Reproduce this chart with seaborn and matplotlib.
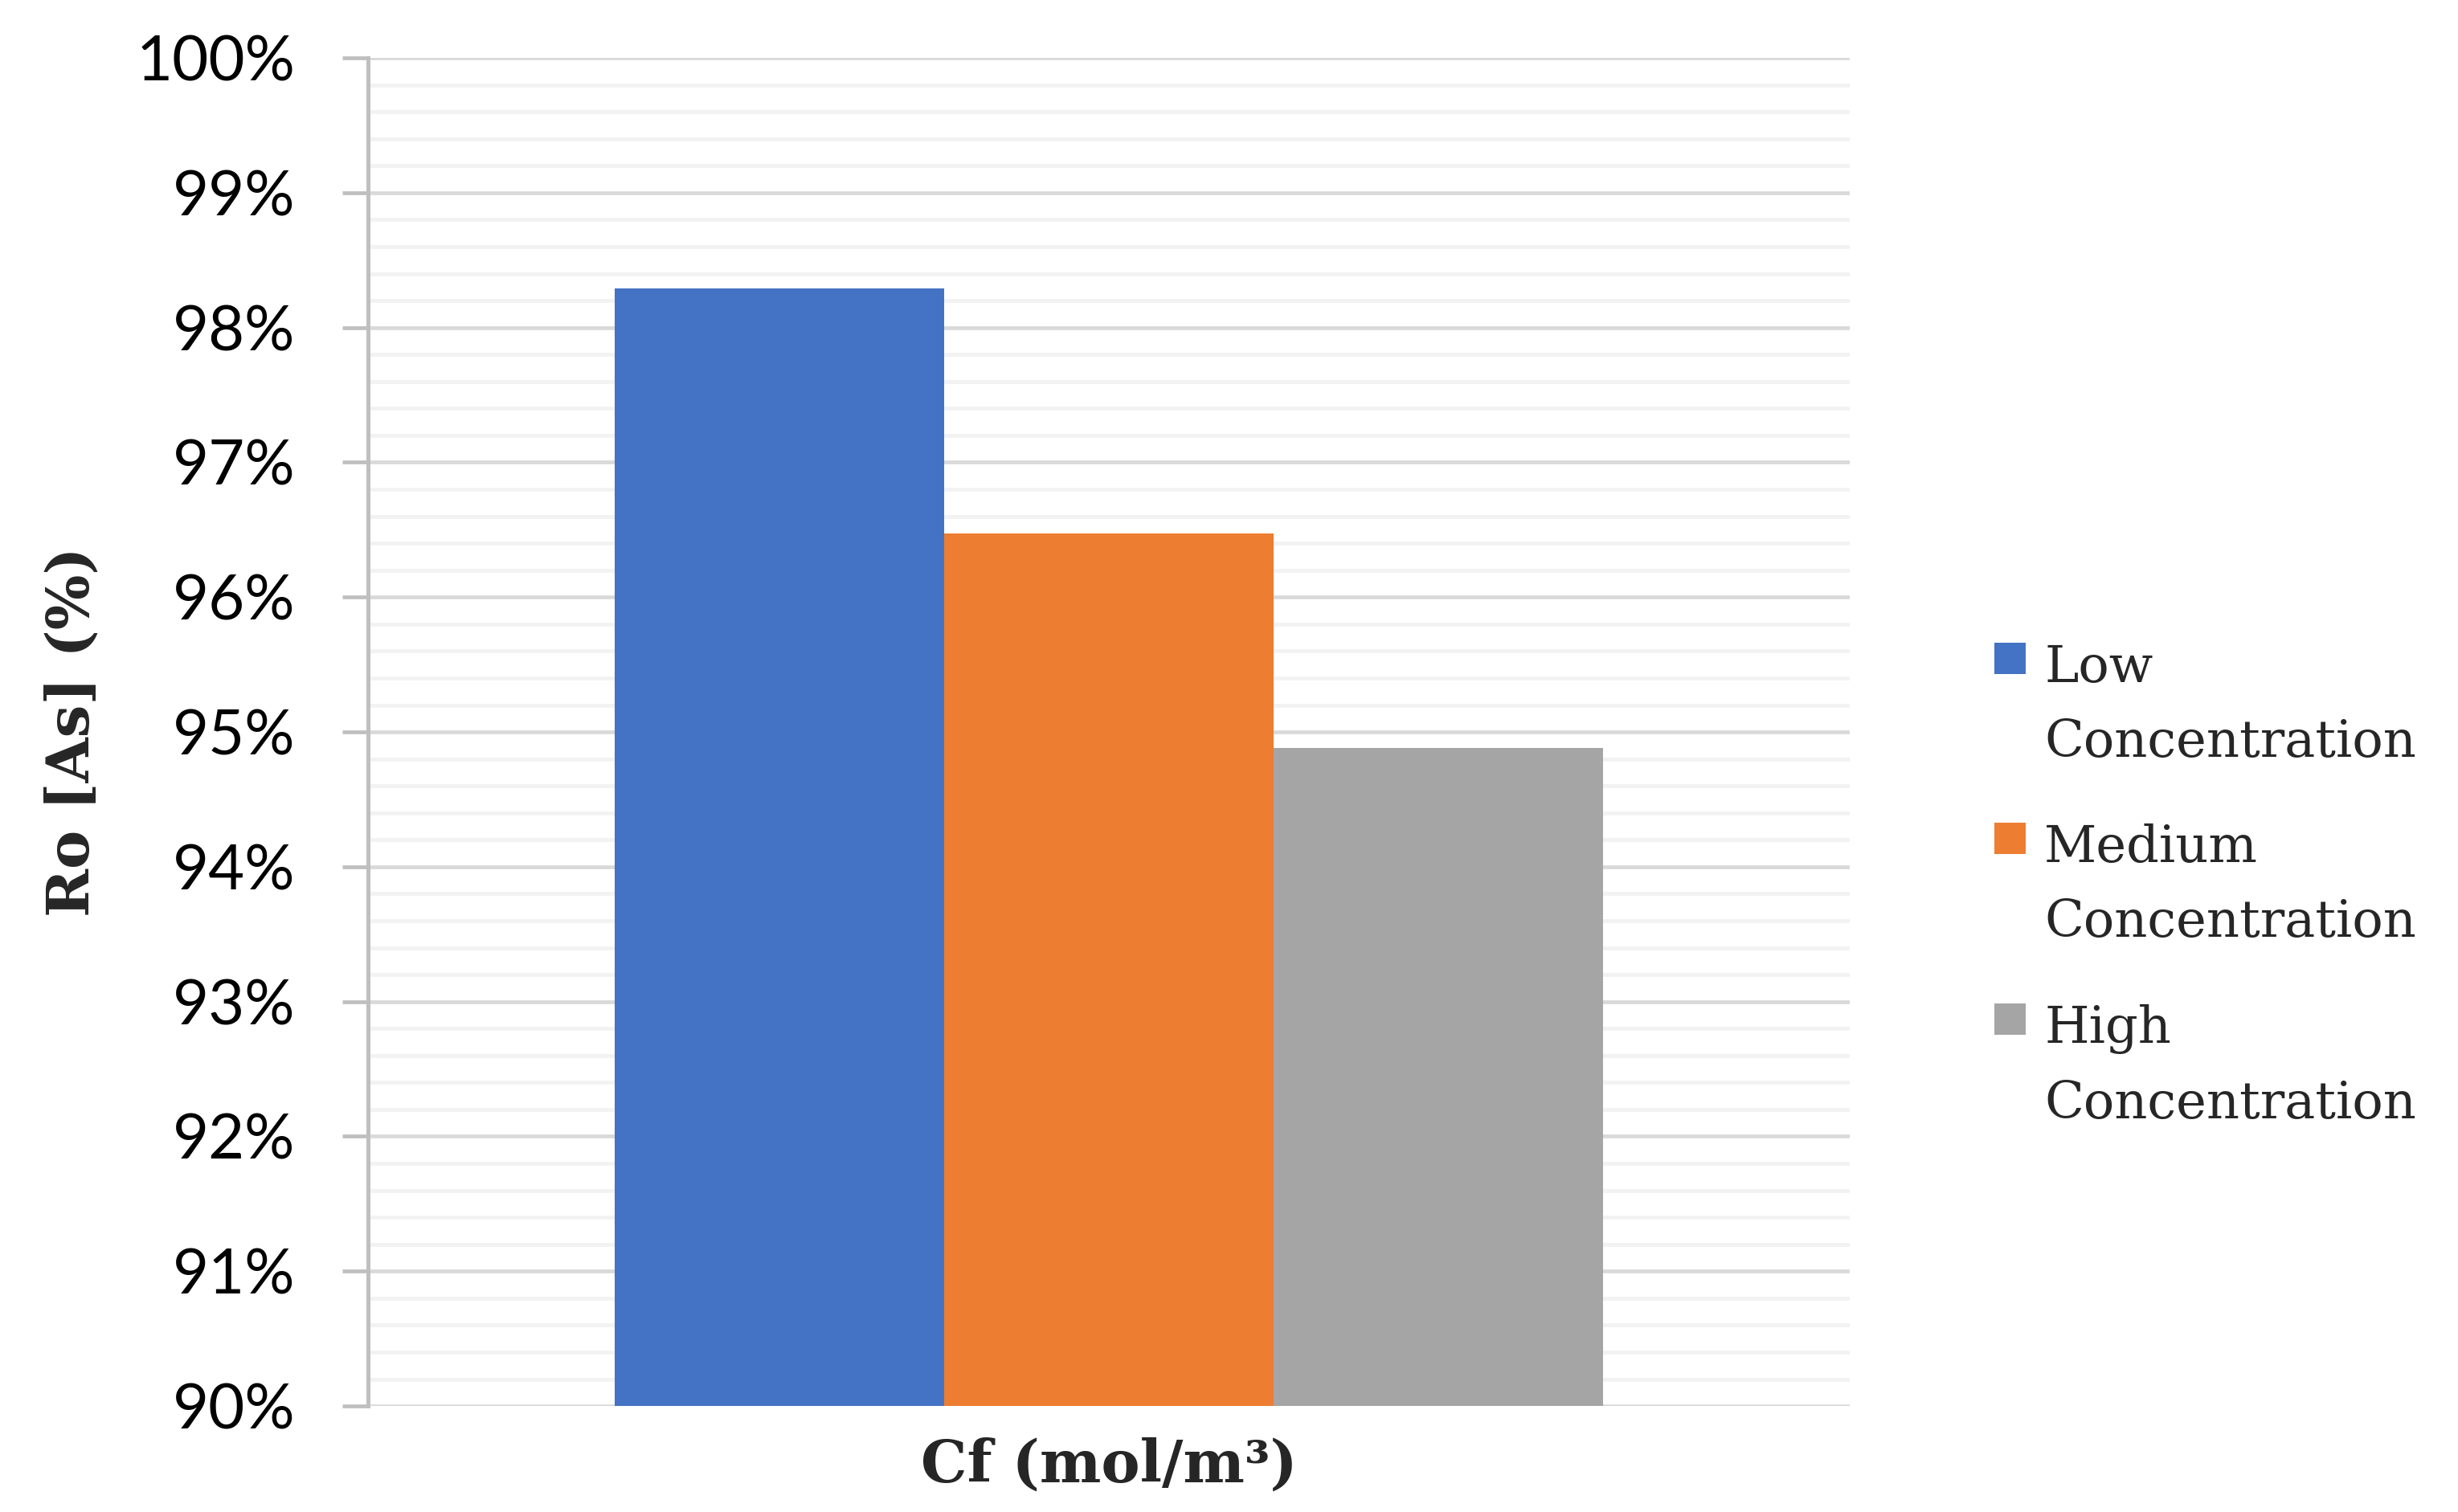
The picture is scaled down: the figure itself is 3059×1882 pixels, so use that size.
import pandas as pd
import numpy as np
import matplotlib
matplotlib.use("Agg")
import matplotlib.pyplot as plt
from matplotlib.ticker import MultipleLocator, FuncFormatter
from matplotlib.legend_handler import HandlerBase
from matplotlib.patches import Rectangle
import seaborn as sns

# data
category = ["Cf (mol/m³)"]
levels = ["Low\nConcentration", "Medium\nConcentration", "High\nConcentration"]
removal = [98.29, 96.47, 94.88]
colors = ["#4472C4", "#ED7D31", "#A5A5A5"]

df = pd.DataFrame({"cat": category * len(levels), "level": levels, "Ro": removal})

sns.set_style("white")
plt.rcParams["font.family"] = ["DejaVu Serif"]

fig = plt.figure(figsize=(30.59, 18.82), dpi=100)
ax = fig.add_axes([0.1497, 0.0701, 0.6028, 0.8916])

sns.barplot(data=df, x="cat", y="Ro", hue="level", palette=colors, saturation=1,
            width=0.667, linewidth=0, ax=ax, legend=True)

ax.set_ylim(90, 100)
ax.set_xlim(-0.5, 0.5)
ax.yaxis.set_major_locator(MultipleLocator(1))
ax.yaxis.set_minor_locator(MultipleLocator(0.2))
ax.yaxis.set_major_formatter(FuncFormatter(lambda v, p: f"{v:.0f}%"))
ax.set_axisbelow(True)
ax.grid(axis="y", which="major", color="#D9D9D9", linewidth=3.4)
ax.grid(axis="y", which="minor", color="#F2F2F2", linewidth=3.4)
ax.grid(axis="x", visible=False)

for s in ["top", "right", "bottom"]:
    ax.spines[s].set_visible(False)
ax.spines["left"].set_color("#BFBFBF")
ax.spines["left"].set_linewidth(3.6)

ax.tick_params(axis="y", which="major", left=True, length=23, width=3.4, color="#BFBFBF",
               pad=42, labelsize=56, labelcolor="black")
ax.tick_params(axis="y", which="minor", left=False, length=0)
for lab in ax.get_yticklabels():
    lab.set_fontfamily("Lato")
ax.set_xticks([])

ax.set_xlabel("Cf (mol/m³)", fontsize=52, fontweight="bold", labelpad=28)
ax.set_ylabel("Ro [As] (%)", fontsize=52, fontweight="bold")
ax.yaxis.set_label_coords(-0.18, 0.5)


class TopSquare(HandlerBase):
    # square aligned with the first line of a two-line label
    def create_artists(self, legend, orig_handle, xdescent, ydescent, width, height, fontsize, trans):
        side = 28
        r = Rectangle((-xdescent, -ydescent + 44), side, side,
                      facecolor=orig_handle.get_facecolor(), edgecolor="none", transform=trans)
        return [r]


handles, labels = ax.get_legend_handles_labels()
ax.get_legend().remove()
leg = fig.legend(handles, labels, loc="center left", bbox_to_anchor=(0.801, 0.414),
                 frameon=False, fontsize=46, handlelength=0.61, handleheight=0.61,
                 handletextpad=0.36, borderpad=0, labelspacing=1.1,
                 handler_map={h: TopSquare() for h in handles})
for t in leg.get_texts():
    t.set_linespacing(1.667)

fig.savefig("out.png", dpi=100)
